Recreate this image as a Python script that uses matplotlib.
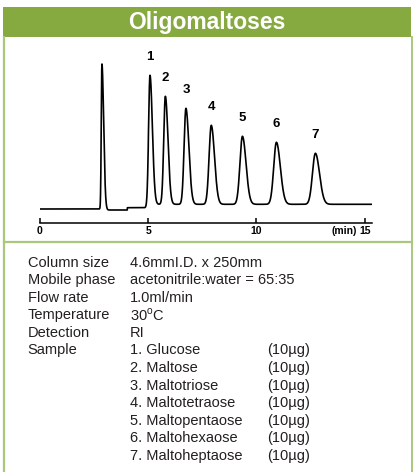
import numpy as np
import matplotlib
matplotlib.use("Agg")
import matplotlib.pyplot as plt
from matplotlib.patches import Rectangle

plt.rcParams['font.family'] = ['Liberation Sans', 'DejaVu Sans']
plt.rcParams['mathtext.fontset'] = 'custom'
plt.rcParams['mathtext.rm'] = 'Liberation Sans'

# peaks: retention time (min), height, left / right width (min)
peak_names = ["solvent", "1", "2", "3", "4", "5", "6", "7"]
peak_times = [2.86, 5.08, 5.79, 6.74, 7.91, 9.35, 10.92, 12.72]
peak_heights = [146, 129, 108, 96, 79, 68, 62, 51]
peak_sig_left = [0.03, 0.065, 0.075, 0.085, 0.10, 0.115, 0.125, 0.135]
peak_sig_right = [0.08, 0.11, 0.12, 0.135, 0.15, 0.165, 0.18, 0.19]

# baseline steps
base_starts = [0.0, 2.80, 4.03, 5.00]
base_levels = [0.3, -0.7, 1.6, 5.0]

run_end = 15.3
ticks = [0, 5, 10, 15]

conditions = [
    ("Column size", "4.6mmI.D. x 250mm"),
    ("Mobile phase", "acetonitrile:water = 65:35"),
    ("Flow rate", "1.0ml/min"),
    ("Temperature", "30$^{\\mathrm{o}}$C"),
    ("Detection", "RI"),
]
samples = ["1. Glucose", "2. Maltose", "3. Maltotriose", "4. Maltotetraose",
           "5. Maltopentaose", "6. Maltohexaose", "7. Maltoheptaose"]
amounts = ["(10µg)"] * 7

green = "#86AA3F"
light_green = "#A9C87C"
txt = "#231F20"

W, H = 414, 472
fig = plt.figure(figsize=(W / 100, H / 100), dpi=100)

bg = fig.add_axes([0, 0, 1, 1])
bg.set_xlim(0, W)
bg.set_ylim(H, 0)
bg.axis("off")
bg.add_patch(Rectangle((3.3, 6.7), 407.4, 30, color=green, lw=0))
bg.plot([4.3, 4.3], [36.7, H], color=light_green, lw=1.6)
bg.plot([411.8, 411.8], [36.7, H], color=light_green, lw=1.4)
bg.plot([4.3, 411.8], [242.3, 242.3], color=light_green, lw=1.6)
bg.text(207, 22, "Oligomaltoses", color="white", fontsize=16.5, fontweight="bold",
        ha="center", va="center")

# chromatogram
px_per_min = 21.65
x0 = 40
xmax = 15.35
ax_bottom, ax_top = 222.7, 50
ax = fig.add_axes([x0 / W, 1 - ax_bottom / H, xmax * px_per_min / W, (ax_bottom - ax_top) / H])
ax.set_xlim(0, xmax)
ax.set_ylim(-(ax_bottom - 209.3), 209.3 - ax_top)
ax.patch.set_alpha(0)

t = np.linspace(0, run_end, 6000)
sig = np.zeros_like(t)
for s, lev in zip(base_starts, base_levels):
    sig[t >= s] = lev
for tr, h, sl, sr in zip(peak_times, peak_heights, peak_sig_left, peak_sig_right):
    sg = np.where(t < tr, sl, sr)
    sig += h * np.exp(-0.5 * ((t - tr) / sg) ** 2)
ax.plot(t, sig, color="black", lw=1.2)

for name, tr, h in zip(peak_names[1:], peak_times[1:], peak_heights[1:]):
    ax.text(tr, h + 5 + 18, name, ha="center", va="center", fontsize=9.5,
            fontweight="bold")

for sp in ["top", "right", "left"]:
    ax.spines[sp].set_visible(False)
ax.spines["bottom"].set_linewidth(1.1)
ax.set_yticks([])
ax.set_xticks(ticks)
ax.set_xticklabels([str(v) for v in ticks])
ax.tick_params(axis="x", direction="in", length=3.5, width=1.1, pad=2.5,
               labelsize=7.5)
for lab in ax.get_xticklabels():
    lab.set_fontweight("bold")
ax.annotate("(min)", (15, 0), xycoords=("data", "axes fraction"),
            xytext=(-6, -2.5), textcoords="offset points", ha="right", va="top",
            fontsize=7.5, fontweight="bold")

# conditions block
row0, dy = 262.7, 17.55
for i, (k, v) in enumerate(conditions):
    bg.text(27.7, row0 + i * dy, k, fontsize=10.5, color=txt, va="center")
    bg.text(130, row0 + i * dy, v, fontsize=10.5, color=txt, va="center")
r = len(conditions)
bg.text(27.7, row0 + r * dy, "Sample", fontsize=10.5, color=txt, va="center")
for j, (s, a) in enumerate(zip(samples, amounts)):
    bg.text(130, row0 + (r + j) * dy, s, fontsize=10.5, color=txt, va="center")
    bg.text(266.7, row0 + (r + j) * dy, a, fontsize=10.5, color=txt, va="center")

fig.savefig("out.png", dpi=100)
